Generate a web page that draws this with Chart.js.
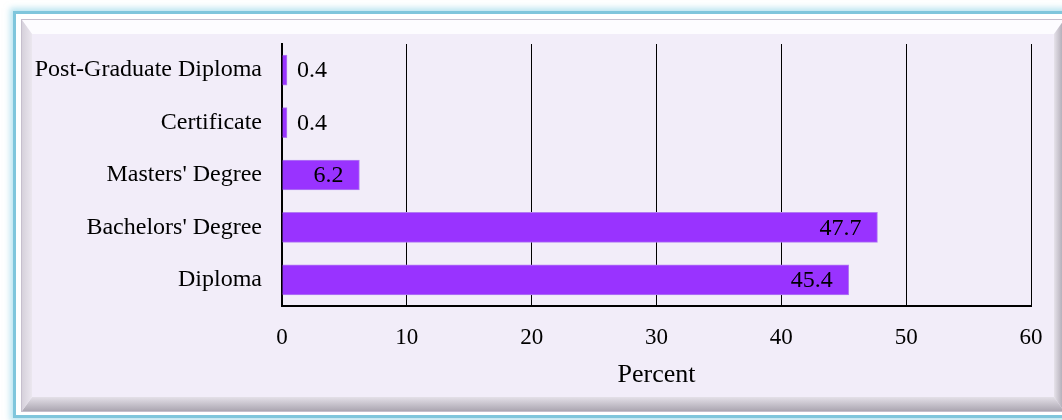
<!DOCTYPE html>
<html>
<head>
<meta charset="utf-8">
<script src="https://cdn.jsdelivr.net/npm/chart.js@4"></script>
<style>
  html, body { margin: 0; padding: 0; background: #fff; width: 1062px; height: 420px; overflow: hidden; position: relative; }
  #frame {
    position: absolute; left: 13px; top: 11px; width: 1070px; height: 401px;
    border: 3px solid #7fc6dc; background: #fff;
    box-shadow: 0 0 6px 3px rgba(130, 205, 228, 0.55);
  }
  #panel {
    position: absolute; left: 6px; top: 6px; width: 1042px; height: 391px;
    background: #f2edf9; box-shadow: 0 0 0 1px #c6bfcd;
  }
  .bev { position: absolute; }
  #bt { left: 0; top: 0; width: 100%; height: 14px; background: #fdfcff;
        clip-path: polygon(0 0, 100% 0, calc(100% - 10px) 100%, 10px 100%); }
  #bb { left: 0; bottom: 0; width: 100%; height: 14px; background: linear-gradient(to bottom, #e4e0e8, #aba6b1);
        clip-path: polygon(10px 0, calc(100% - 10px) 0, 100% 100%, 0 100%); }
  #bl { left: 0; top: 0; width: 10px; height: 100%; background: linear-gradient(to right, #d6d1db, #ebe7ef);
        clip-path: polygon(0 0, 100% 14px, 100% calc(100% - 14px), 0 100%); }
  #br { right: 0; top: 0; width: 10px; height: 100%; background: linear-gradient(to right, #e6e2ea, #a9a4af);
        clip-path: polygon(0 14px, 100% 0, 100% 100%, 0 calc(100% - 14px)); }
  #chart { position: absolute; left: 0; top: 0; }
</style>
</head>
<body>
<div id="frame"><div id="panel">
  <div class="bev" id="bt"></div><div class="bev" id="bb"></div>
  <div class="bev" id="bl"></div><div class="bev" id="br"></div>
</div></div>
<canvas id="chart" width="1062" height="420"></canvas>
<script>
const categories = ["Post-Graduate Diploma", "Certificate", "Masters' Degree", "Bachelors' Degree", "Diploma"];
const percents = [0.4, 0.4, 6.2, 47.7, 45.4];
const axisTitle = "Percent";

const serif = "'Liberation Serif', 'Times New Roman', serif";

// value labels: small bars get the number outside, others inside at the end
const barLabels = {
  id: 'barLabels',
  afterDatasetsDraw(chart) {
    const ctx = chart.ctx;
    const meta = chart.getDatasetMeta(0);
    ctx.save();
    ctx.font = "24px " + serif;
    ctx.fillStyle = '#000';
    ctx.textBaseline = 'middle';
    meta.data.forEach((bar, i) => {
      const v = percents[i];
      if (v < 3) {
        ctx.textAlign = 'left';
        ctx.fillText(String(v), bar.x + 10, bar.y + 1);
      } else {
        ctx.textAlign = 'right';
        ctx.fillText(String(v), bar.x - 16, bar.y + 1);
      }
    });
    ctx.restore();
  }
};

new Chart(document.getElementById('chart'), {
  type: 'bar',
  data: {
    labels: categories,
    datasets: [{
      data: percents,
      backgroundColor: '#9933ff',
      borderColor: '#b27cf2',
      borderWidth: 1,
      borderSkipped: 'start',
      barThickness: 30
    }]
  },
  options: {
    indexAxis: 'y',
    responsive: false,
    animation: false,
    layout: { padding: { top: 44, right: 31, bottom: 0, left: 0 } },
    plugins: { legend: { display: false }, tooltip: { enabled: false } },
    scales: {
      x: {
        min: 0, max: 60,
        ticks: { stepSize: 10, color: '#000', padding: 18, font: { family: serif, size: 23 } },
        grid: { color: '#000', lineWidth: 1, drawTicks: false },
        border: { color: '#000', width: 2 },
        title: { display: true, text: axisTitle, color: '#000', font: { family: serif, size: 26 }, padding: { top: 0, bottom: 29 } },
        afterFit(s) { s.height = 114; }
      },
      y: {
        ticks: { color: '#000', padding: 20, font: { family: serif, size: 24 } },
        grid: { display: false, drawTicks: false },
        border: { color: '#000', width: 2 },
        afterFit(s) { s.width = 282; }
      }
    }
  },
  plugins: [barLabels]
});
</script>
</body>
</html>
